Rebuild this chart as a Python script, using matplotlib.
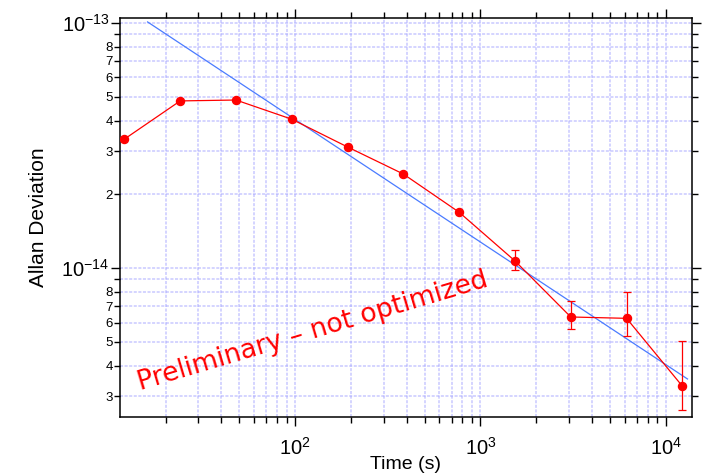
import numpy as np
import matplotlib
matplotlib.use("Agg")
import matplotlib.pyplot as plt
from matplotlib.ticker import FixedLocator, FuncFormatter, NullFormatter

plt.rcParams['font.family'] = ['Liberation Sans', 'DejaVu Sans']
plt.rcParams['mathtext.fontset'] = 'custom'
plt.rcParams['mathtext.rm'] = 'Liberation Sans'
plt.rcParams['mathtext.it'] = 'Liberation Sans:italic'
plt.rcParams['mathtext.bf'] = 'Liberation Sans:bold'

# Averaging times (s) and measured Allan deviation
tau = [12, 24, 48, 96, 192, 384, 768, 1536, 3072, 6144, 12288]
adev = [3.36e-14, 4.81e-14, 4.85e-14, 4.05e-14, 3.12e-14, 2.42e-14,
        1.69e-14, 1.07e-14, 6.32e-15, 6.24e-15, 3.30e-15]
# Confidence bounds (only for the long averaging times)
err_lo = [np.nan] * 7 + [9.84e-15, 5.62e-15, 5.30e-15, 2.63e-15]
err_hi = [np.nan] * 7 + [1.19e-14, 7.36e-15, 7.96e-15, 5.04e-15]

# White-frequency-noise reference line (tau^-1/2)
fit_tau = [16, 13100]
fit_adev = [1.01e-13, 3.53e-15]

x_major = [1e2, 1e3, 1e4]
y_major = [1e-14, 1e-13]

fig = plt.figure(figsize=(7.05, 4.75), dpi=100)
ax = fig.add_axes([120 / 705, 1 - 417 / 475, 571.7 / 705, 399 / 475])
ax.set_xscale('log')
ax.set_yscale('log')
ax.set_xlim(11.36, 13800)
ax.set_ylim(2.47e-15, 1.048e-13)

# Ticks and grid
x_minor = [m * 10.0 ** e for e in range(1, 5) for m in range(2, 10)]
y_minor = [m * 10.0 ** e for e in (-15, -14) for m in range(2, 10)]
ax.xaxis.set_major_locator(FixedLocator(x_major))
ax.xaxis.set_minor_locator(FixedLocator(x_minor))
ax.yaxis.set_major_locator(FixedLocator(y_major))
ax.yaxis.set_minor_locator(FixedLocator(y_minor))


def pow_label(v, pos):
    return r'$10^{%d}$' % int(round(np.log10(v)))


def mantissa_label(v, pos):
    m = int(round(v / 10.0 ** np.floor(np.log10(v) + 1e-9)))
    return '' if m == 9 else str(m)


ax.xaxis.set_major_formatter(FuncFormatter(pow_label))
ax.xaxis.set_minor_formatter(NullFormatter())
ax.yaxis.set_major_formatter(FuncFormatter(pow_label))
ax.yaxis.set_minor_formatter(FuncFormatter(mantissa_label))

ax.tick_params(which='both', direction='out', top=True, right=True,
               color='black', width=1.0)
ax.tick_params(which='major', length=6.5, labelsize=14.5)
ax.tick_params(which='minor', length=4, labelsize=9.5)
ax.tick_params(axis='x', which='major', pad=8)
ax.tick_params(axis='y', which='both', pad=1)

grid_kw = dict(color='#a8a8ff', alpha=0.62, linewidth=1.1,
               linestyle=(0, (2, 1)))
ax.grid(True, which='both', **grid_kw)
ax.set_axisbelow(True)

for s in ax.spines.values():
    s.set_linewidth(1.1)

# Reference slope line
ax.plot(fit_tau, fit_adev, color='#4a7bff', linewidth=0.9, zorder=3)

# Measured points
ax.plot(tau, adev, color='red', linewidth=0.9, marker='o', markersize=5.8,
        zorder=4)
t = np.array(tau)
a = np.array(adev)
lo = np.array(err_lo)
hi = np.array(err_hi)
mask = ~np.isnan(lo)
ax.errorbar(t[mask], a[mask], yerr=[a[mask] - lo[mask], hi[mask] - a[mask]],
            fmt='none', ecolor='red', elinewidth=0.9, capsize=2.6,
            capthick=0.9, zorder=4)

ax.set_xlabel('Time (s)', fontsize=14, labelpad=-2)
ax.set_ylabel('Allan Deviation', fontsize=15, labelpad=10)

ax.text(0.035, 0.068, 'Preliminary \u2013 not optimized', transform=ax.transAxes,
        family='DejaVu Sans', fontsize=19.2, color='red', rotation=16.6,
        rotation_mode='anchor', ha='left', va='baseline', zorder=5)

fig.savefig('out.png', dpi=100)
